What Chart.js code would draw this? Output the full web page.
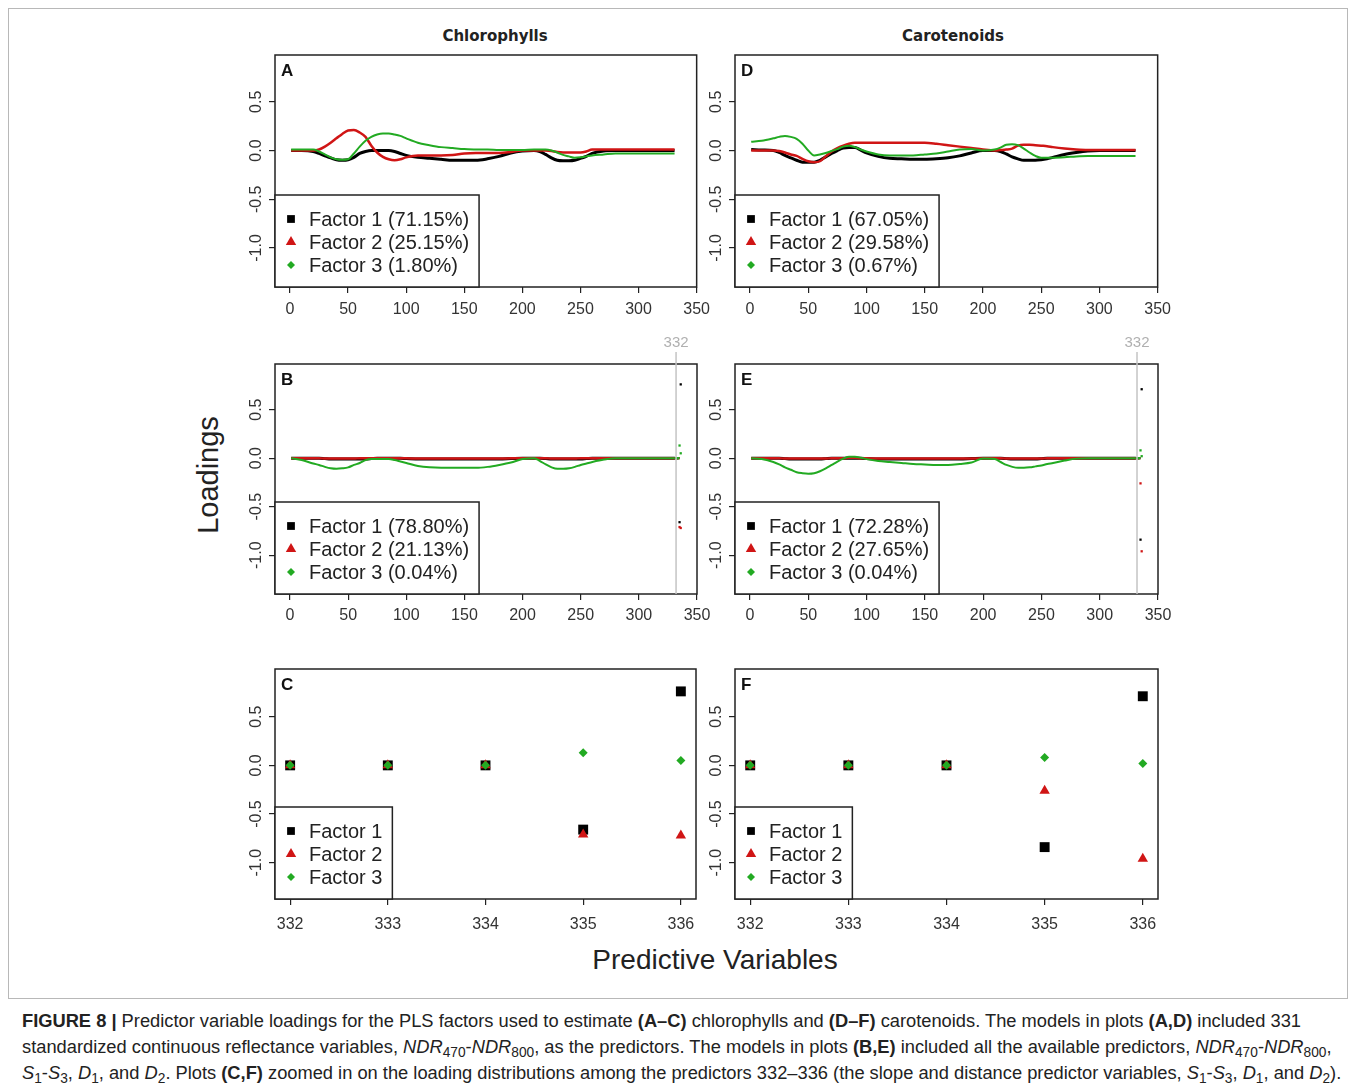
<!DOCTYPE html>
<html>
<head>
<meta charset="utf-8">
<title>PLS factor loadings</title>
<script src="https://cdn.jsdelivr.net/npm/chart.js@4.4.1/dist/chart.umd.min.js"></script>
<style>
  body { margin: 0; background: #fff; font-family: "Liberation Sans", Arial, sans-serif; color: #222; }
  #fig { position: relative; width: 1355px; height: 1091px; overflow: hidden; }
  #frame { position: absolute; left: 8px; top: 8px; width: 1340px; height: 991px; border: 1px solid #b8b8b8; box-sizing: border-box; }
  canvas { position: absolute; }
  .coltitle { position: absolute; top: 36px; transform: translate(-50%, -50%); font: bold 15px "DejaVu Sans", Verdana, sans-serif; white-space: nowrap; color: #222; }
  #ylab { position: absolute; left: 208px; top: 475px; transform: translate(-50%, -50%) rotate(-90deg); font-size: 29px; white-space: nowrap; }
  #xlab { position: absolute; left: 715px; top: 960px; transform: translate(-50%, -50%); font-size: 28px; white-space: nowrap; }
  #caption { position: absolute; left: 22px; top: 1008px; font-size: 18.3px; line-height: 26px; white-space: nowrap; color: #222; }
  #caption sub { font-size: 0.75em; line-height: 0; vertical-align: -0.3em; }
</style>
</head>
<body>
<div id="fig">
  <div id="frame"></div>
  <div class="coltitle" style="left:495px">Chlorophylls</div>
  <div class="coltitle" style="left:953px">Carotenoids</div>
  <div id="ylab">Loadings</div>
  <div id="xlab">Predictive Variables</div>
  <canvas id="pA"></canvas>
  <canvas id="pD"></canvas>
  <canvas id="pB"></canvas>
  <canvas id="pE"></canvas>
  <canvas id="pC"></canvas>
  <canvas id="pF"></canvas>
  <div id="caption">
    <b>FIGURE 8 |</b> Predictor variable loadings for the PLS factors used to estimate <b>(A–C)</b> chlorophylls and <b>(D–F)</b> carotenoids. The models in plots <b>(A,D)</b> included 331<br>
    standardized continuous reflectance variables, <i>NDR</i><sub>470</sub>-<i>NDR</i><sub>800</sub>, as the predictors. The models in plots <b>(B,E)</b> included all the available predictors, <i>NDR</i><sub>470</sub>-<i>NDR</i><sub>800</sub>,<br>
    <i>S</i><sub>1</sub>-<i>S</i><sub>3</sub>, <i>D</i><sub>1</sub>, and <i>D</i><sub>2</sub>. Plots <b>(C,F)</b> zoomed in on the loading distributions among the predictors 332–336 (the slope and distance predictor variables, <i>S</i><sub>1</sub>-<i>S</i><sub>3</sub>, <i>D</i><sub>1</sub>, and <i>D</i><sub>2</sub>).
  </div>
</div>
<script>
// predictor index where each continuous curve is sampled
const varX = [1, 10, 20, 25, 30, 35, 40, 45, 50, 55, 60, 65, 70, 75, 80, 85, 90, 95, 100,
  110, 120, 130, 140, 150, 160, 170, 180, 190, 200, 210,
  215, 220, 225, 230, 235, 240, 245, 250, 255, 260,
  270, 280, 290, 300, 310, 320, 331];

// A: chlorophylls, 331 reflectance predictors
const chlA_f1 = [0, 0, -0.01, -0.03, -0.055, -0.075, -0.095, -0.1, -0.095, -0.07, -0.03, -0.01, 0, 0, 0, 0, -0.01, -0.03, -0.05,
  -0.07, -0.08, -0.09, -0.1, -0.1, -0.1, -0.085, -0.06, -0.025, -0.005, 0,
  -0.01, -0.04, -0.075, -0.1, -0.105, -0.105, -0.1, -0.08, -0.06, -0.03,
  -0.005, 0, 0, 0, 0, 0, 0];
const chlA_f2 = [0, 0, 0, 0.01, 0.04, 0.08, 0.125, 0.17, 0.205, 0.21, 0.185, 0.14, 0.05, -0.02, -0.065, -0.09, -0.1, -0.09, -0.07,
  -0.05, -0.05, -0.05, -0.045, -0.03, -0.025, -0.025, -0.025, -0.015, 0, 0,
  0, 0, -0.005, -0.015, -0.02, -0.02, -0.02, -0.02, -0.01, 0.01,
  0.01, 0.01, 0.01, 0.01, 0.01, 0.01, 0.01];
const chlA_f3 = [0.01, 0.01, 0.01, -0.01, -0.04, -0.07, -0.09, -0.095, -0.09, -0.03, 0.04, 0.1, 0.14, 0.165, 0.175, 0.175, 0.165, 0.15, 0.125,
  0.08, 0.055, 0.035, 0.025, 0.015, 0.01, 0.01, 0.005, 0.005, 0.005, 0.01,
  0.01, 0.01, 0, -0.02, -0.045, -0.06, -0.075, -0.07, -0.06, -0.05,
  -0.04, -0.03, -0.03, -0.03, -0.03, -0.03, -0.03];

// D: carotenoids, 331 reflectance predictors
const carD_f1 = [0.01, 0.005, 0, -0.02, -0.05, -0.075, -0.1, -0.12, -0.12, -0.12, -0.1, -0.065, -0.03, 0, 0.025, 0.03, 0.03, 0.005, -0.025,
  -0.06, -0.08, -0.085, -0.09, -0.09, -0.085, -0.075, -0.055, -0.025, 0, 0,
  -0.01, -0.035, -0.065, -0.085, -0.1, -0.1, -0.1, -0.095, -0.085, -0.07,
  -0.04, -0.02, -0.005, 0, 0, 0, 0];
const carD_f2 = [0, 0, 0, -0.005, -0.02, -0.04, -0.055, -0.085, -0.11, -0.12, -0.11, -0.06, -0.01, 0.025, 0.05, 0.07, 0.08, 0.08, 0.08,
  0.08, 0.08, 0.08, 0.08, 0.08, 0.07, 0.055, 0.04, 0.025, 0.01, 0,
  0.005, 0.01, 0.02, 0.05, 0.06, 0.06, 0.055, 0.05, 0.045, 0.035,
  0.02, 0.01, 0.005, 0.005, 0.005, 0.005, 0.005];
const carD_f3 = [0.09, 0.1, 0.125, 0.14, 0.15, 0.14, 0.12, 0.07, 0, -0.05, -0.04, -0.025, -0.005, 0.015, 0.04, 0.05, 0.035, 0.01, -0.01,
  -0.04, -0.05, -0.05, -0.05, -0.04, -0.03, -0.01, 0.01, 0.015, 0, 0.01,
  0.03, 0.06, 0.065, 0.055, 0.02, -0.02, -0.055, -0.075, -0.075, -0.075,
  -0.07, -0.06, -0.055, -0.055, -0.055, -0.055, -0.055];

// B: chlorophylls, all 336 predictors (continuous part)
const chlB_f1 = [0, 0, 0, 0, -0.005, -0.01, -0.01, -0.01, -0.01, -0.01, -0.01, -0.01, -0.005, 0, 0, 0, 0, 0, -0.005,
  -0.01, -0.01, -0.01, -0.01, -0.01, -0.01, -0.01, -0.01, -0.005, 0, 0,
  0, -0.005, -0.01, -0.01, -0.01, -0.01, -0.01, -0.01, -0.005, 0,
  0, 0, 0, 0, 0, 0, 0];
const chlB_f2 = [0, 0, 0, 0, -0.005, -0.005, -0.005, -0.005, -0.005, -0.005, 0, 0, 0, 0, 0, 0, 0, 0, 0,
  -0.005, -0.005, -0.005, -0.005, -0.005, -0.005, -0.005, -0.005, 0, 0, 0,
  0, 0, -0.005, -0.005, -0.005, -0.005, -0.005, 0, 0, 0,
  0, 0, 0, 0, 0, 0, 0];
const chlB_f3 = [0, -0.02, -0.055, -0.07, -0.09, -0.105, -0.11, -0.105, -0.095, -0.07, -0.05, -0.02, -0.01, -0.01, -0.01, -0.01, -0.02, -0.035, -0.05,
  -0.08, -0.095, -0.1, -0.1, -0.1, -0.1, -0.09, -0.07, -0.045, -0.01, 0,
  -0.03, -0.065, -0.095, -0.11, -0.11, -0.105, -0.09, -0.07, -0.055, -0.04,
  -0.015, 0, 0, 0, 0, 0, 0];

// E: carotenoids, all 336 predictors (continuous part)
const carE_f1 = [0, 0, 0, 0, -0.005, -0.01, -0.01, -0.01, -0.01, -0.01, -0.01, -0.005, 0, 0, 0, 0, 0, 0, -0.005,
  -0.01, -0.01, -0.01, -0.01, -0.01, -0.01, -0.01, -0.01, -0.005, 0, 0,
  0, -0.005, -0.01, -0.01, -0.01, -0.01, -0.01, -0.005, 0, 0,
  0, 0, 0, 0, 0, 0, 0];
const carE_f2 = [0, 0, 0, 0, -0.005, -0.005, -0.005, -0.005, -0.005, -0.005, -0.005, -0.005, 0, 0, 0, 0.005, 0.005, 0, 0,
  -0.005, -0.005, -0.005, -0.005, -0.005, -0.005, -0.005, -0.005, -0.005, 0, 0,
  0, -0.005, -0.005, -0.005, -0.005, -0.005, -0.005, -0.005, 0, 0,
  0, 0, 0, 0, 0, 0, 0];
const carE_f3 = [0, -0.01, -0.04, -0.065, -0.095, -0.12, -0.145, -0.155, -0.16, -0.155, -0.135, -0.105, -0.07, -0.035, -0.005, 0.015, 0.015, 0.005, -0.01,
  -0.03, -0.04, -0.05, -0.06, -0.065, -0.07, -0.07, -0.06, -0.045, -0.005, -0.01,
  -0.04, -0.07, -0.09, -0.1, -0.1, -0.095, -0.085, -0.075, -0.06, -0.05,
  -0.025, -0.005, 0, 0, 0, 0, 0];

// slope and distance predictors 332-336 (C, F and the tail of B, E)
const zoomX = [332, 333, 334, 335, 336];
const chlC_f1 = [0, 0, 0, -0.66, 0.76];
const chlC_f2 = [0, 0, 0, -0.71, -0.72];
const chlC_f3 = [0, 0, 0, 0.13, 0.05];
const carF_f1 = [0, 0, 0, -0.84, 0.71];
const carF_f2 = [0, 0, 0, -0.26, -0.96];
const carF_f3 = [0, 0, 0, 0.08, 0.02];

const curveTicks = [0, 50, 100, 150, 200, 250, 300, 350];
const zoomTicks = [332, 333, 334, 335, 336];
const loadTicks = [-1.0, -0.5, 0.0, 0.5];

const legendA = ['Factor 1 (71.15%)', 'Factor 2 (25.15%)', 'Factor 3 (1.80%)'];
const legendD = ['Factor 1 (67.05%)', 'Factor 2 (29.58%)', 'Factor 3 (0.67%)'];
const legendB = ['Factor 1 (78.80%)', 'Factor 2 (21.13%)', 'Factor 3 (0.04%)'];
const legendE = ['Factor 1 (72.28%)', 'Factor 2 (27.65%)', 'Factor 3 (0.04%)'];
const legendZoom = ['Factor 1', 'Factor 2', 'Factor 3'];

const facColor = ['#000000', '#d01515', '#22aa22'];
const facShape = ['rect', 'triangle', 'rectRot'];
const facLineW = [3, 2.5, 2];
const FONT = '"Liberation Sans", Arial, sans-serif';

// margins around the plot box inside each canvas
const M = { left: 45, top: 32, right: 20, bottom: 38 };

function drawMark(ctx, shape, x, y, r) {
  ctx.beginPath();
  if (shape === 'rect') {
    const s = r * Math.SQRT1_2;
    ctx.rect(x - s, y - s, 2 * s, 2 * s);
  } else if (shape === 'triangle') {
    ctx.moveTo(x, y - r);
    ctx.lineTo(x + r * 0.866, y + r * 0.5);
    ctx.lineTo(x - r * 0.866, y + r * 0.5);
    ctx.closePath();
  } else {
    ctx.moveTo(x - r, y);
    ctx.lineTo(x, y - r);
    ctx.lineTo(x + r, y);
    ctx.lineTo(x, y + r);
    ctx.closePath();
  }
  ctx.fill();
}

// frame, rotated y labels, panel letter, legend box and the 332 marker line
const rPlot = {
  id: 'rPlot',
  afterDraw(chart, args, opts) {
    const { ctx, chartArea: a, scales: { x, y } } = chart;
    ctx.save();
    ctx.strokeStyle = '#222';
    ctx.lineWidth = 1.5;
    ctx.strokeRect(a.left, a.top, a.right - a.left, a.bottom - a.top);

    ctx.fillStyle = '#333';
    ctx.font = '16px ' + FONT;
    ctx.textAlign = 'center';
    ctx.textBaseline = 'middle';
    y.ticks.forEach(t => {
      ctx.save();
      ctx.translate(a.left - 18, y.getPixelForValue(t.value));
      ctx.rotate(-Math.PI / 2);
      ctx.fillText(t.value.toFixed(1), 0, 0);
      ctx.restore();
    });

    ctx.fillStyle = '#111';
    ctx.font = 'bold 17px ' + FONT;
    ctx.textAlign = 'left';
    ctx.textBaseline = 'top';
    ctx.fillText(opts.letter, a.left + 6, a.top + 8);

    if (opts.mark) {
      const mx = x.getPixelForValue(opts.mark);
      ctx.strokeStyle = '#c4c4c4';
      ctx.lineWidth = 1.5;
      ctx.beginPath();
      ctx.moveTo(mx, a.top - 12);
      ctx.lineTo(mx, a.bottom);
      ctx.stroke();
      ctx.fillStyle = '#b0b0b0';
      ctx.font = '15px ' + FONT;
      ctx.textAlign = 'center';
      ctx.textBaseline = 'middle';
      ctx.fillText(String(opts.mark), mx, a.top - 21);
    }

    // legend in the lower left corner
    ctx.font = '20px ' + FONT;
    const tw = Math.max(...opts.legend.map(s => ctx.measureText(s).width));
    const lw = 34 + tw + 10, lh = 92;
    const lx = a.left, ly = a.bottom - lh;
    ctx.fillStyle = '#fff';
    ctx.fillRect(lx, ly, lw, lh);
    ctx.strokeStyle = '#222';
    ctx.lineWidth = 1.5;
    ctx.strokeRect(lx, ly, lw, lh);
    ctx.textAlign = 'left';
    ctx.textBaseline = 'middle';
    opts.legend.forEach((s, i) => {
      const ry = ly + 24 + i * 23;
      ctx.fillStyle = facColor[i];
      drawMark(ctx, facShape[i], lx + 16, ry, [5.5, 6, 4][i]);
      ctx.fillStyle = '#222';
      ctx.fillText(s, lx + 34, ry + 1);
    });
    ctx.restore();
  }
};

function curveSets(series, tail) {
  const sets = series.map((ys, i) => ({
    data: varX.map((v, k) => ({ x: v, y: ys[k] })),
    showLine: true,
    borderColor: facColor[i],
    borderWidth: facLineW[i],
    pointRadius: 0,
    tension: 0.4,
    cubicInterpolationMode: 'monotone',
    order: 3 - i
  }));
  if (tail) {
    tail.forEach((ys, i) => sets.push({
      data: zoomX.map((v, k) => ({ x: v, y: ys[k] })),
      showLine: false,
      pointRadius: 1.6,
      pointStyle: 'rect',
      backgroundColor: facColor[i],
      borderWidth: 0,
      order: 3 - i
    }));
  }
  return sets;
}

function pointSets(series) {
  return series.map((ys, i) => ({
    data: zoomX.map((v, k) => ({ x: v, y: ys[k] })),
    showLine: false,
    pointStyle: facShape[i],
    pointRadius: [7, 6, 4.5][i],
    backgroundColor: facColor[i],
    borderColor: facColor[i],
    borderWidth: 0,
    order: 3 - i
  }));
}

function makePanel(id, box, datasets, xr, xt, yr, labelPad, plotOpts) {
  const cv = document.getElementById(id);
  const [l, t, w, h] = box;
  cv.width = w + M.left + M.right;
  cv.height = h + M.top + M.bottom;
  cv.style.left = (l - M.left) + 'px';
  cv.style.top = (t - M.top) + 'px';
  const axisGrid = { drawOnChartArea: false, drawTicks: true, tickLength: 6, color: '#222', lineWidth: 1.2 };
  new Chart(cv.getContext('2d'), {
    type: 'scatter',
    data: { datasets },
    options: {
      responsive: false,
      animation: false,
      devicePixelRatio: 1,
      layout: { padding: { left: 0, top: M.top, right: M.right, bottom: 0 } },
      plugins: { legend: { display: false }, tooltip: { enabled: false }, rPlot: plotOpts },
      scales: {
        x: {
          type: 'linear', min: xr[0], max: xr[1],
          afterBuildTicks: s => { s.ticks = xt.map(v => ({ value: v })); },
          afterFit: s => { s.height = M.bottom; },
          grid: axisGrid,
          border: { display: false },
          ticks: { color: '#333', font: { family: FONT, size: 16 }, padding: labelPad, maxRotation: 0, autoSkip: false }
        },
        y: {
          type: 'linear', min: yr[0], max: yr[1],
          afterBuildTicks: s => { s.ticks = loadTicks.map(v => ({ value: v })); },
          afterFit: s => { s.width = M.left; },
          grid: axisGrid,
          border: { display: false },
          ticks: { display: false }
        }
      }
    },
    plugins: [rPlot]
  });
}

document.addEventListener('DOMContentLoaded', () => {
  const curveX = [-12.9, 350];
  const zoomR = [331.845, 336.155];

  makePanel('pA', [275, 55, 422, 232], curveSets([chlA_f1, chlA_f2, chlA_f3]),
    curveX, curveTicks, [-1.40, 0.98], 7, { letter: 'A', legend: legendA });
  makePanel('pD', [735, 55, 423, 232], curveSets([carD_f1, carD_f2, carD_f3]),
    curveX, curveTicks, [-1.40, 0.98], 7, { letter: 'D', legend: legendD });

  makePanel('pB', [275, 364, 422, 230], curveSets([chlB_f1, chlB_f2, chlB_f3], [chlC_f1, chlC_f2, chlC_f3]),
    curveX, curveTicks, [-1.40, 0.97], 6, { letter: 'B', legend: legendB, mark: 332 });
  makePanel('pE', [735, 364, 423, 230], curveSets([carE_f1, carE_f2, carE_f3], [carF_f1, carF_f2, carF_f3]),
    curveX, curveTicks, [-1.40, 0.97], 6, { letter: 'E', legend: legendE, mark: 332 });

  makePanel('pC', [275, 669, 421, 230], pointSets([chlC_f1, chlC_f2, chlC_f3]),
    zoomR, zoomTicks, [-1.373, 0.99], 10, { letter: 'C', legend: legendZoom });
  makePanel('pF', [735, 669, 423, 230], pointSets([carF_f1, carF_f2, carF_f3]),
    zoomR, zoomTicks, [-1.373, 0.99], 10, { letter: 'F', legend: legendZoom });
});
</script>
</body>
</html>
